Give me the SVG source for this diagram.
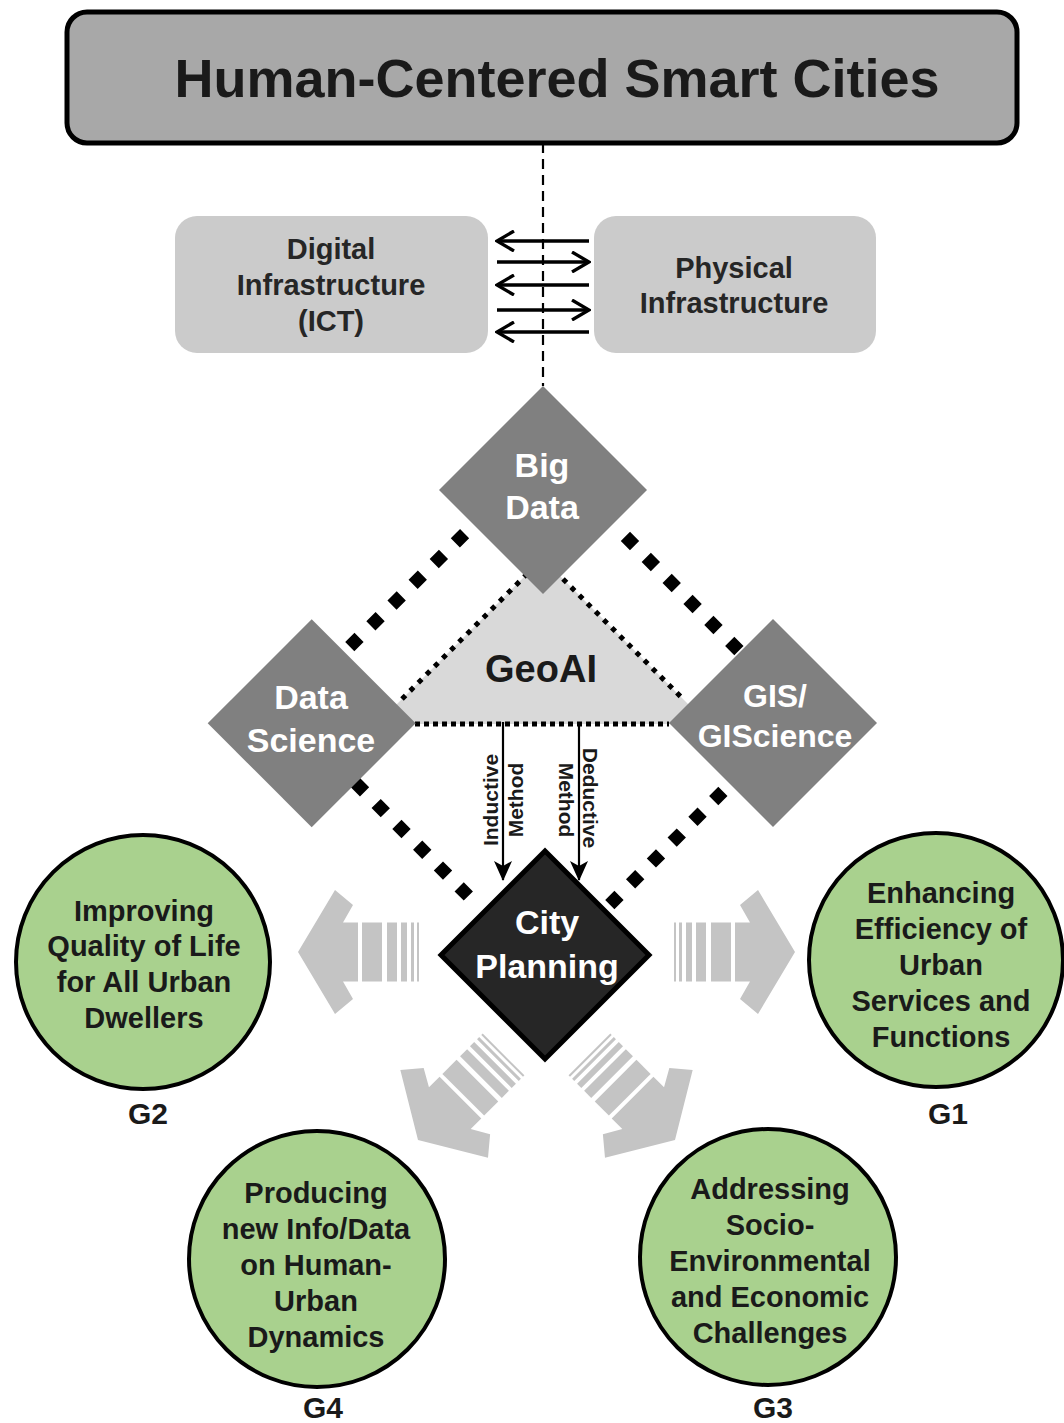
<svg xmlns="http://www.w3.org/2000/svg" width="1064" height="1423" viewBox="0 0 1064 1423">
<style>
text{font-family:"Liberation Sans",Arial,sans-serif;font-weight:bold;text-anchor:middle}
.title{font-size:54px;fill:#1a1a1a}
.box{fill:#cbcbcb}
.boxt{font-size:29px;fill:#262626}
.dia{fill:#808080}
.diat{font-size:34px;fill:#ffffff}
.circ{fill:#a9d18e;stroke:#000;stroke-width:4}
.ct{font-size:29px;fill:#1a1a1a}
.gl{font-size:30px;fill:#1a1a1a}
.sarrow{stroke:#000;stroke-width:3.3;fill:none}
.thick{stroke:#000;stroke-width:13;fill:none}
.thin{stroke:#000;stroke-width:5;fill:none}
.fat{fill:#c4c4c4}
.meth{font-size:21px;fill:#1a1a1a}
</style>
<defs>
<marker id="chev" viewBox="0 0 20 22" refX="18" refY="11" markerWidth="20" markerHeight="22" markerUnits="userSpaceOnUse" orient="auto">
<path d="M1,1 L18,11 L1,21" fill="none" stroke="#000" stroke-width="3.3"/>
</marker>
<marker id="tri" viewBox="0 0 20 18" refX="19" refY="9" markerWidth="20" markerHeight="18" markerUnits="userSpaceOnUse" orient="auto">
<path d="M0,0 L20,9 L0,18 L5,9 Z" fill="#000"/>
</marker>
<g id="fatarrow">
<path d="M0,0 L37,-62 L55,-47 L45,-29.5 L60,-29.5 L60,29.5 L45,29.5 L55,47 L37,62 Z"/>
<rect x="64" y="-29.5" width="20" height="59"/>
<rect x="89" y="-29.5" width="10" height="59"/>
<rect x="103" y="-29.5" width="6" height="59"/>
<rect x="113" y="-29.5" width="3" height="59"/>
<rect x="119" y="-29.5" width="2" height="59"/>
</g>
</defs>
<rect width="1064" height="1423" fill="#ffffff"/>

<g id="connectors">
<line x1="543" y1="143" x2="543" y2="386" stroke="#000" stroke-width="2.2" stroke-dasharray="10 6"/>
<line class="sarrow" x1="589" y1="241" x2="497" y2="241" marker-end="url(#chev)"/>
<line class="sarrow" x1="497" y1="262" x2="589" y2="262" marker-end="url(#chev)"/>
<line class="sarrow" x1="589" y1="285" x2="497" y2="285" marker-end="url(#chev)"/>
<line class="sarrow" x1="497" y1="310" x2="589" y2="310" marker-end="url(#chev)"/>
<line class="sarrow" x1="589" y1="332" x2="497" y2="332" marker-end="url(#chev)"/>
</g>

<g id="geoai">
<polygon points="542.5,558.5 377,724 708,724" fill="#d9d9d9"/>
<line class="thin" x1="402" y1="699" x2="526" y2="575" stroke-dasharray="5 6.5"/>
<line class="thin" x1="563" y1="579" x2="684" y2="700" stroke-dasharray="5 6.5"/>
<line class="thin" x1="415" y1="724" x2="669" y2="724" stroke-dasharray="5 4"/>
<text x="541" y="682" style="font-size:38px;fill:#1a1a1a">GeoAI</text>
</g>

<g id="thick-links">
<line class="thick" x1="464.6" y1="533.7" x2="348.7" y2="647.6" stroke-dasharray="13 16.6"/>
<line class="thick" x1="625.4" y1="536.4" x2="739.6" y2="651.3" stroke-dasharray="13 16.6"/>
<line class="thick" x1="355.4" y1="782.7" x2="468.6" y2="896.3" stroke-dasharray="13 16.4"/>
<line class="thick" x1="722.9" y1="791.4" x2="608.1" y2="906.3" stroke-dasharray="13 16.4"/>
</g>

<g id="methods">
<line x1="503" y1="722" x2="503" y2="880" stroke="#000" stroke-width="2.2" marker-end="url(#tri)"/>
<line x1="579" y1="722" x2="579" y2="880" stroke="#000" stroke-width="2.2" marker-end="url(#tri)"/>
<text class="meth" transform="translate(491,800) rotate(-90)" y="7">Inductive</text>
<text class="meth" transform="translate(516,800) rotate(-90)" y="7">Method</text>
<text class="meth" transform="translate(590,798) rotate(90)" y="7">Deductive</text>
<text class="meth" transform="translate(566,800) rotate(90)" y="7">Method</text>
</g>

<g id="title-node">
<rect x="67" y="12" width="950" height="131" rx="20" fill="#a8a8a8" stroke="#000" stroke-width="5"/>
<text class="title" x="557" y="97">Human-Centered Smart Cities</text>
</g>

<g id="digital-node">
<rect class="box" x="175" y="216" width="313" height="137" rx="22"/>
<text class="boxt" x="331" y="259">Digital</text>
<text class="boxt" x="331" y="295">Infrastructure</text>
<text class="boxt" x="331" y="331">(ICT)</text>
</g>

<g id="physical-node">
<rect class="box" x="594" y="216" width="282" height="137" rx="22"/>
<text class="boxt" x="734" y="278">Physical</text>
<text class="boxt" x="734" y="313">Infrastructure</text>
</g>

<g id="bigdata-node">
<polygon class="dia" points="543,386 647,490 543,594 439,490"/>
<text class="diat" x="542" y="477">Big</text>
<text class="diat" x="542" y="519">Data</text>
</g>

<g id="datascience-node">
<polygon class="dia" points="311.7,619.3 415.7,723.3 311.7,827.3 207.7,723.3"/>
<text class="diat" x="311" y="709">Data</text>
<text class="diat" x="311" y="752">Science</text>
</g>

<g id="gis-node">
<polygon class="dia" points="773,619 877,723 773,827 669,723"/>
<text class="diat" x="775" y="707" style="font-size:32px">GIS/</text>
<text class="diat" x="775" y="747" style="font-size:32px">GIScience</text>
</g>

<g id="fat-arrows" class="fat">
<use href="#fatarrow" transform="translate(298,952)"/>
<use href="#fatarrow" transform="translate(795,952) scale(-1,1)"/>
<use href="#fatarrow" transform="translate(418,1140) rotate(-45)"/>
<use href="#fatarrow" transform="translate(675,1140) scale(-1,1) rotate(-45)"/>
</g>

<g id="cityplanning-node">
<polygon points="545,851 649,955 545,1059 441,955" fill="#262626" stroke="#000" stroke-width="5"/>
<text class="diat" x="547" y="934">City</text>
<text class="diat" x="547" y="978">Planning</text>
</g>

<g id="g2-node">
<circle class="circ" cx="143" cy="962" r="127"/>
<text class="ct" x="144" y="921">Improving</text>
<text class="ct" x="144" y="956">Quality of Life</text>
<text class="ct" x="144" y="992">for All Urban</text>
<text class="ct" x="144" y="1028">Dwellers</text>
<text class="gl" x="148" y="1124">G2</text>
</g>

<g id="g1-node">
<circle class="circ" cx="936" cy="960" r="127"/>
<text class="ct" x="941" y="903">Enhancing</text>
<text class="ct" x="941" y="939">Efficiency of</text>
<text class="ct" x="941" y="975">Urban</text>
<text class="ct" x="941" y="1011">Services and</text>
<text class="ct" x="941" y="1047">Functions</text>
<text class="gl" x="948" y="1124">G1</text>
</g>

<g id="g4-node">
<circle class="circ" cx="317" cy="1259" r="128"/>
<text class="ct" x="316" y="1203">Producing</text>
<text class="ct" x="316" y="1239">new Info/Data</text>
<text class="ct" x="316" y="1275">on Human-</text>
<text class="ct" x="316" y="1311">Urban</text>
<text class="ct" x="316" y="1347">Dynamics</text>
<text class="gl" x="323" y="1418">G4</text>
</g>

<g id="g3-node">
<circle class="circ" cx="768" cy="1257" r="128"/>
<text class="ct" x="770" y="1199">Addressing</text>
<text class="ct" x="770" y="1235">Socio-</text>
<text class="ct" x="770" y="1271">Environmental</text>
<text class="ct" x="770" y="1307">and Economic</text>
<text class="ct" x="770" y="1343">Challenges</text>
<text class="gl" x="773" y="1418">G3</text>
</g>
</svg>
